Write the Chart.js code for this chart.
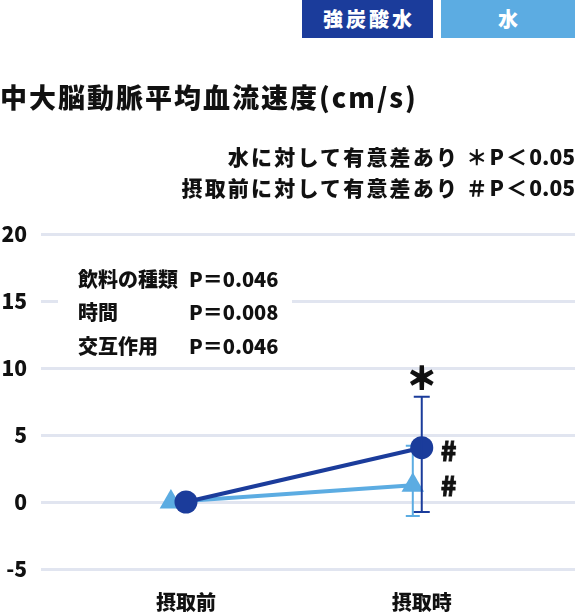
<!DOCTYPE html>
<html>
<head>
<meta charset="utf-8">
<script src="https://cdn.jsdelivr.net/npm/chart.js@4.4.1/dist/chart.umd.min.js"></script>
<style>
    body { margin: 0; background: #fff; font-family: "Noto Sans CJK JP", sans-serif; color: #111; }
    #wrap { position: relative; width: 575px; height: 614px; overflow: hidden; }
    #chart { position: absolute; left: 0; top: 0; }
    .legend { position: absolute; top: 0; height: 38px; line-height: 38px; color: #fff; font-size: 20px; font-weight: 900; text-align: center; letter-spacing: 3px; text-indent: 3px; }
    .title { position: absolute; left: 0; top: 82px; font-size: 27px; font-weight: 900; line-height: 30px; letter-spacing: 2px; white-space: nowrap; }
    .note { position: absolute; right: 0; font-size: 21px; font-weight: 900; line-height: 30px; letter-spacing: 2.2px; white-space: nowrap; }
    .note span { letter-spacing: 0; }
</style>
</head>
<body>
<div id="wrap">
    <canvas id="chart" width="575" height="614"></canvas>
    <div class="legend" id="leg0" style="left:302px;width:131px;"></div>
    <div class="legend" id="leg1" style="left:441px;width:134px;"></div>
    <div class="title">中大脳動脈平均血流速度(cm/s)</div>
    <div class="note" style="top:141px;">水に対して有意差あり ＊P＜<span>0.05</span></div>
    <div class="note" style="top:172px;">摂取前に対して有意差あり ＃P＜<span>0.05</span></div>
</div>
<script>
// data
const categories = ['摂取前', '摂取時'];
const seriesNames = ['強炭酸水', '水'];
const sparkling = [0, 4.05];
const sparklingHigh = [0, 7.85];
const sparklingLow = [0, -0.75];
const water = [0, 1.25];
const waterHigh = [0, 4.2];
const waterLow = [0, -1.05];
const waterShift = [-0.064, -0.038];
const yTicks = [-5, 0, 5, 10, 15, 20];
const statLabels = ['飲料の種類', '時間', '交互作用'];
const statValues = ['P＝0.046', 'P＝0.008', 'P＝0.046'];
const starMarks = ['', '＊'];
const hashMarks = ['', '#'];

const DARK = '#1b3c9b';
const LIGHT = '#5cace2';
const FONT = '"Noto Sans CJK JP", sans-serif';

document.getElementById('leg0').textContent = seriesNames[0];
document.getElementById('leg0').style.background = DARK;
document.getElementById('leg1').textContent = seriesNames[1];
document.getElementById('leg1').style.background = LIGHT;

const errorBars = {
    0: { high: sparklingHigh, low: sparklingLow, shift: [0, 0], color: DARK, cap: 8 },
    1: { high: waterHigh, low: waterLow, shift: waterShift, color: LIGHT, cap: 7 }
};

// draws text centred on its ink box
function inkText(ctx, text, cx, cy) {
    const m = ctx.measureText(text);
    const w = m.actualBoundingBoxRight + m.actualBoundingBoxLeft;
    const h = m.actualBoundingBoxAscent + m.actualBoundingBoxDescent;
    ctx.textAlign = 'left';
    ctx.textBaseline = 'alphabetic';
    const x = cx - w / 2 + m.actualBoundingBoxLeft;
    const y = cy + h / 2 - m.actualBoundingBoxDescent;
    ctx.fillText(text, x, y);
    ctx.strokeText(text, x, y);
}

const extras = {
    id: 'extras',
    beforeDatasetsDraw(chart) {
        const ctx = chart.ctx;
        const area = chart.chartArea;
        ctx.save();
        ctx.fillStyle = '#fff';
        ctx.fillRect(area.left + 17, area.top + 24, 234, 104);
        ctx.fillStyle = '#111';
        ctx.font = `900 20px ${FONT}`;
        ctx.textBaseline = 'middle';
        ctx.textAlign = 'left';
        statLabels.forEach((label, i) => {
            const y = area.top + 45 + i * 33.5;
            ctx.fillText(label, area.left + 37, y);
            ctx.fillText(statValues[i], area.left + 148, y);
        });
        ctx.restore();
    },
    afterDatasetDraw(chart, args) {
        const bar = errorBars[args.index];
        if (!bar) return;
        const ctx = chart.ctx;
        const xs = chart.scales.x, ys = chart.scales.y;
        ctx.save();
        ctx.strokeStyle = bar.color;
        ctx.lineWidth = 2;
        bar.high.forEach((hi, i) => {
            const lo = bar.low[i];
            if (hi === lo) return;
            const x = xs.getPixelForValue(i + bar.shift[i]);
            const yH = ys.getPixelForValue(hi);
            const yL = ys.getPixelForValue(lo);
            ctx.beginPath();
            ctx.moveTo(x, yH); ctx.lineTo(x, yL);
            ctx.moveTo(x - bar.cap, yH); ctx.lineTo(x + bar.cap, yH);
            ctx.moveTo(x - bar.cap, yL); ctx.lineTo(x + bar.cap, yL);
            ctx.stroke();
        });
        ctx.restore();
    },
    afterDraw(chart) {
        const ctx = chart.ctx;
        const xs = chart.scales.x, ys = chart.scales.y;
        ctx.save();
        ctx.fillStyle = '#111';
        ctx.strokeStyle = '#111';
        starMarks.forEach((mark, i) => {
            if (!mark) return;
            ctx.font = `900 30px ${FONT}`;
            ctx.lineWidth = 1.6;
            inkText(ctx, mark, xs.getPixelForValue(i), ys.getPixelForValue(sparklingHigh[i]) - 19);
        });
        hashMarks.forEach((mark, i) => {
            if (!mark) return;
            ctx.font = `900 26px ${FONT}`;
            ctx.lineWidth = 0.8;
            const x = xs.getPixelForValue(i) + 27;
            inkText(ctx, mark, x, ys.getPixelForValue(sparkling[i]) + 3);
            inkText(ctx, mark, x, ys.getPixelForValue(water[i]) + 1);
        });
        ctx.restore();
    }
};

new Chart(document.getElementById('chart'), {
    type: 'line',
    data: {
        datasets: [
            {
                label: seriesNames[0],
                data: sparkling.map((v, i) => ({ x: i, y: v })),
                borderColor: DARK,
                backgroundColor: DARK,
                borderWidth: 4,
                pointStyle: 'circle',
                pointRadius: 11.5,
                pointBorderWidth: 0,
                fill: false
            },
            {
                label: seriesNames[1],
                data: water.map((v, i) => ({ x: i + waterShift[i], y: v })),
                borderColor: LIGHT,
                backgroundColor: LIGHT,
                borderWidth: 4,
                pointStyle: 'triangle',
                pointRadius: 13,
                pointBorderWidth: 0,
                fill: false
            }
        ]
    },
    options: {
        responsive: false,
        animation: false,
        layout: { autoPadding: false, padding: { top: 234, left: 0, right: 0, bottom: 0 } },
        plugins: {
            legend: { display: false },
            tooltip: { enabled: false }
        },
        scales: {
            x: {
                type: 'linear',
                min: -0.615,
                max: 1.65,
                grid: { display: false },
                border: { display: false },
                afterBuildTicks: s => { s.ticks = categories.map((c, i) => ({ value: i })); },
                afterFit: s => { s.height = 45; s.paddingLeft = 0; s.paddingRight = 0; },
                ticks: {
                    callback: v => categories[v],
                    padding: 13,
                    maxRotation: 0,
                    autoSkip: false,
                    color: '#111',
                    font: { family: FONT, size: 20, weight: '900' }
                }
            },
            y: {
                min: -5,
                max: 20,
                afterBuildTicks: s => { s.ticks = yTicks.map(v => ({ value: v })); },
                afterFit: s => { s.width = 41; },
                grid: { color: '#e1e5f0', lineWidth: 3, drawTicks: false },
                border: { display: false },
                ticks: {
                    padding: 14,
                    color: '#111',
                    font: { family: FONT, size: 21, weight: '900' }
                }
            }
        }
    },
    plugins: [extras]
});
</script>
</body>
</html>
